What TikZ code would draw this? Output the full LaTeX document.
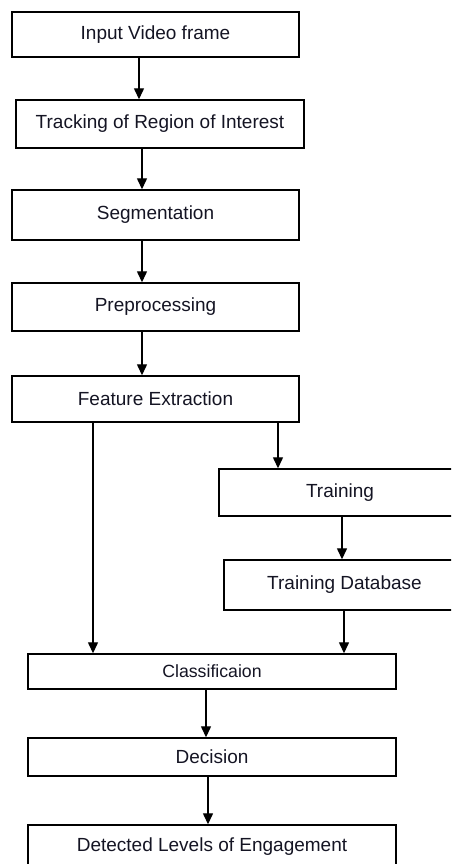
\documentclass[tikz,border=0pt]{standalone}
\usepackage{fontspec}
\setmainfont{Liberation Sans}
\usepackage{tikz}
\usetikzlibrary{positioning, arrows.meta, calc}
\definecolor{ink}{RGB}{20,20,35}

\tikzset{
  block/.style={draw, line width=1.4pt, rectangle, inner sep=2pt, text=ink,
    font=\fontsize{19}{22}\selectfont},
  flow/.style={-{Triangle[length=11pt,width=10pt]}, line width=1.3pt},
}

\begin{document}
\begin{tikzpicture}[x=1pt, y=-1pt]
        \clip (0,0) rectangle (451,864);
        \useasboundingbox (0,0) rectangle (451,864);
        \node[block, minimum width=287pt, minimum height=45pt] (inp) at (155.5,34.5) {Input Video frame};
        \node[block, minimum width=288pt, minimum height=48pt] (track) at (160,124) {Tracking of Region of Interest};
        \node[block, minimum width=287pt, minimum height=50pt] (seg) at (155.5,215) {Segmentation};
        \node[block, minimum width=287pt, minimum height=48pt] (prep) at (155.5,307) {Preprocessing};
        \node[block, minimum width=287pt, minimum height=46pt] (feat) at (155.5,399) {Feature Extraction};
        \node[block, minimum width=242pt, minimum height=47pt] (train) at (340,492.5) {Training};
        \node[block, minimum width=241pt, minimum height=50pt] (tdb) at (344.5,585) {Training Database};
        \node[block, minimum width=368pt, minimum height=35pt, font=\fontsize{17.7}{20}\selectfont] (cls) at (212,671.5) {Classificaion};
        \node[block, minimum width=368pt, minimum height=38pt] (dec) at (212,757) {Decision};
        \node[block, minimum width=368pt, minimum height=43pt] (det) at (212,846.5) {Detected Levels of Engagement};
        % main column
        \draw[flow] ([xshift=-16.5pt]inp.south) -- ([xshift=-16.5pt]inp.south |- track.north);
        \draw[flow] ([xshift=-18pt]track.south) -- ([xshift=-18pt]track.south |- seg.north);
        \draw[flow] ([xshift=-13.5pt]seg.south) -- ([xshift=-13.5pt]seg.south |- prep.north);
        \draw[flow] ([xshift=-13.5pt]prep.south) -- ([xshift=-13.5pt]prep.south |- feat.north);
        % two branches
        \draw[flow] ([xshift=-62.5pt]feat.south) -- ([xshift=-62.5pt]feat.south |- cls.north);
        \draw[flow] ([xshift=122.5pt]feat.south) -- ([xshift=122.5pt]feat.south |- train.north);
        \draw[flow] ([xshift=2pt]train.south) -- ([xshift=2pt]train.south |- tdb.north);
        \draw[flow] ([xshift=-0.5pt]tdb.south) -- ([xshift=-0.5pt]tdb.south |- cls.north);
        \draw[flow] ([xshift=-6pt]cls.south) -- ([xshift=-6pt]cls.south |- dec.north);
        \draw[flow] ([xshift=-4pt]dec.south) -- ([xshift=-4pt]dec.south |- det.north);
    \end{tikzpicture}
\end{document}
